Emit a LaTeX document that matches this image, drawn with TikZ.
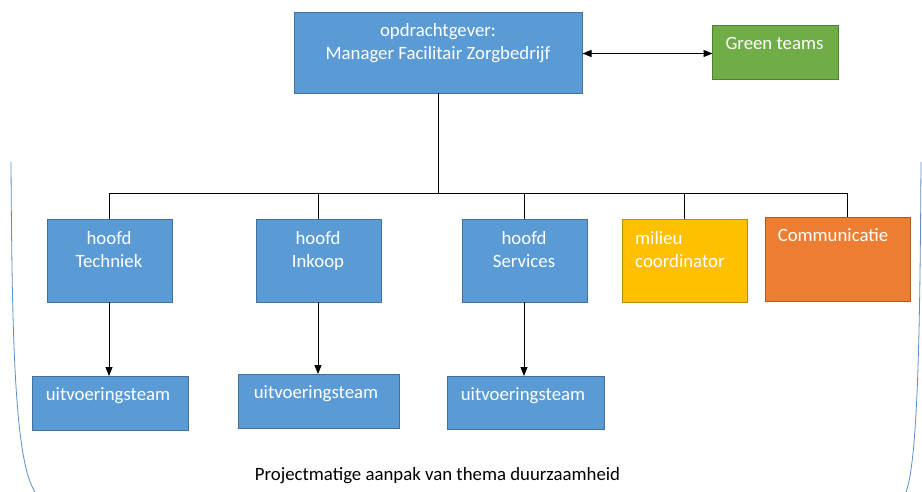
\documentclass[tikz,border=0pt]{standalone}
\usepackage{fontspec}
\setmainfont{Carlito}
\usetikzlibrary{arrows.meta}
\definecolor{bluefill}{HTML}{5B9BD5}
\definecolor{blueedge}{HTML}{41719C}
\definecolor{greenfill}{HTML}{70AD47}
\definecolor{greenedge}{HTML}{507E32}
\definecolor{yellowfill}{HTML}{FFC000}
\definecolor{yellowedge}{HTML}{BC8C00}
\definecolor{orangefill}{HTML}{ED7D31}
\definecolor{orangeedge}{HTML}{AE5A21}
\definecolor{bracketblue}{HTML}{5B8FC9}
\begin{document}
\begin{tikzpicture}[x=1pt,y=-1pt,
  box/.style={draw=blueedge,fill=bluefill,line width=0.8pt},
  lbl/.style={text=white,font=\fontsize{18.8}{22.6}\selectfont,align=center,anchor=base,inner sep=0pt},
  conn/.style={line width=0.9pt,black},
  arr/.style={line width=0.9pt,black,-{Triangle[length=9pt,width=7pt]}}
]
\useasboundingbox (0,0) rectangle (922,492);
\fill[white] (0,0) rectangle (922,492);
% bracket
\draw[bracketblue,line width=0.8pt] (11,162) .. controls (12,330) and (14,460) .. (35,492);
\draw[bracketblue,line width=0.8pt] (921,162) .. controls (920,330) and (918,460) .. (906,492);
% top
\draw[box] (294,12) rectangle (582.5,93.5);
\coordinate (topS) at (438,93.5);
\coordinate (topE) at (582.5,53.5);
\node[lbl] (top) at (438,59.5) {opdrachtgever:\\Manager Facilitair Zorgbedrijf};
\draw[draw=greenedge,fill=greenfill,line width=0.8pt] (712.5,25.7) rectangle (838.3,79.3);
\coordinate (grW) at (712.5,53.5);
\node[lbl] (green) at (774.5,50) {Green teams};
\draw[line width=0.9pt,{Triangle[length=9pt,width=7pt]}-{Triangle[length=9pt,width=7pt]}] (topE) -- (grW);
% second row
\draw[box] (47,219) rectangle (172,302);
\node[lbl] (tech) at (109,267) {hoofd\\Techniek};
\draw[box] (256,219) rectangle (381,302);
\node[lbl] (ink) at (318,267) {hoofd\\Inkoop};
\draw[box] (462,219) rectangle (587,302);
\node[lbl] (serv) at (524,267) {hoofd\\Services};
\draw[draw=yellowedge,fill=yellowfill,line width=0.8pt] (622,219) rectangle (747,302);
\node[lbl,align=left,anchor=base west] (mil) at (635,267) {milieu\\coordinator};
\draw[draw=orangeedge,fill=orangefill,line width=0.8pt] (765,217) rectangle (910.7,301);
\node[lbl] (comm) at (833,242) {Communicatie};
\coordinate (techN) at (109,219);
\coordinate (inkN) at (318,219);
\coordinate (servN) at (524,219);
\coordinate (milN) at (684,219);
\coordinate (commN) at (847,217);
\coordinate (busL) at (109,193);
\coordinate (busR) at (847,193);
\coordinate (busM) at (438,193);
\draw[conn] (topS) -- (busM);
\draw[conn] (techN) -- (busL) -- (busR) -- (commN);
\draw[conn] (inkN) -- (318,193);
\draw[conn] (servN) -- (524,193);
\draw[conn] (milN) -- (684,193);
% third row
\draw[box] (32,376) rectangle (188.5,430);
\node[lbl] (u1) at (108,400) {uitvoeringsteam};
\draw[box] (238,374) rectangle (399,428);
\node[lbl] (u2) at (316,398) {uitvoeringsteam};
\draw[box] (447,376) rectangle (604,429);
\node[lbl] (u3) at (523,400) {uitvoeringsteam};
\draw[arr] (109,302) -- (109,376);
\draw[arr] (318,302) -- (318,374);
\draw[arr] (524,302) -- (524,376);
% caption
\node[font=\fontsize{18.8}{22}\selectfont,inner sep=0pt,anchor=base] (cap) at (437.5,480) {Projectmatige aanpak van thema duurzaamheid};
\end{tikzpicture}
\end{document}
